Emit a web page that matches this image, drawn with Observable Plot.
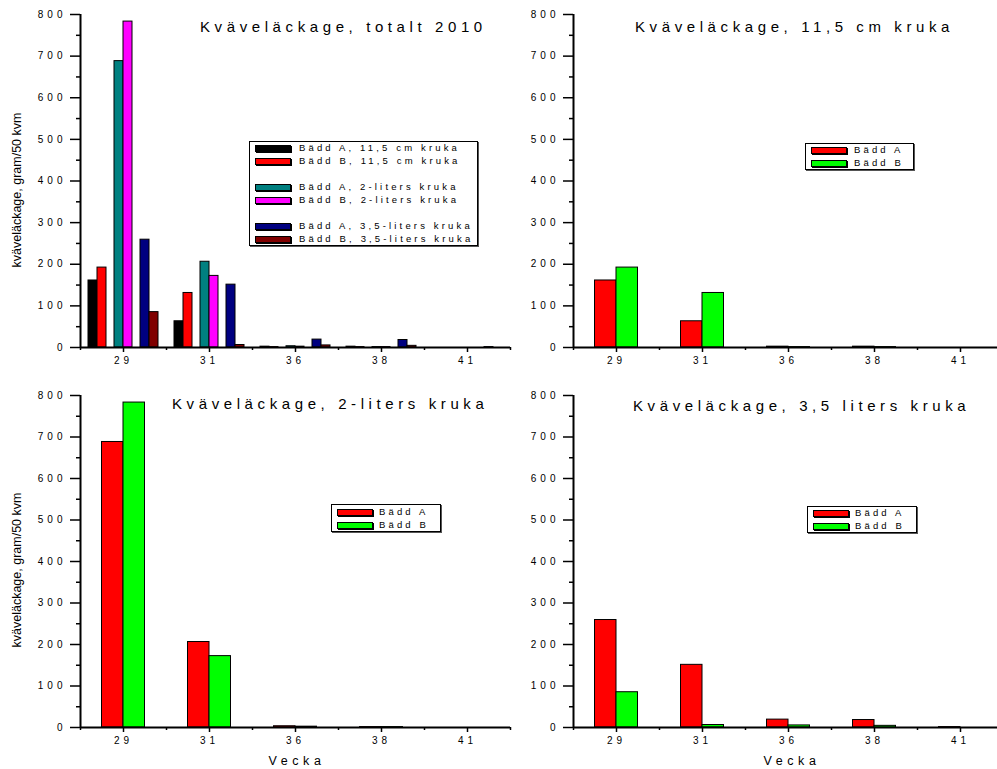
<!DOCTYPE html>
<html><head><meta charset="utf-8">
<script src="https://cdn.jsdelivr.net/npm/d3@7"></script>
<script src="https://cdn.jsdelivr.net/npm/@observablehq/plot@0.6"></script>
<style>
html,body{margin:0;padding:0;background:#fff;overflow:hidden}
#root{position:relative;width:997px;height:769px;overflow:hidden;font-family:"Liberation Sans",Arial,sans-serif;color:#000;background:#fff}
.abs{position:absolute}
.title{position:absolute;font-size:15px;line-height:15px;letter-spacing:4.6px;white-space:pre}
.legend{position:absolute;border:1px solid #000;box-shadow:1px 1px 0 #555;background:#fff;box-sizing:border-box}
.sw{position:absolute;height:5px;border:1px solid #000;box-shadow:1px 1px 0 #000}
.lt{position:absolute;font-size:9.5px;line-height:10px;letter-spacing:3.15px;white-space:pre}
.ylab{position:absolute;font-size:12.5px;line-height:13px;white-space:nowrap;transform:translate(-50%,-50%) rotate(-90deg)}
.xlab{position:absolute;font-size:12.5px;line-height:13px;letter-spacing:4.6px;white-space:nowrap;transform:translateX(-50%)}
</style>
</head><body>
<div id="root"></div>
<script>
// ---- data ----
const weeks = ["29", "31", "36", "38", "41"];
const baddA_11_5cm = [161, 63, 2, 2, 0];
const baddB_11_5cm = [192, 131, 1, 1, 0];
const baddA_2liter = [688, 206, 3, 1, 0];
const baddB_2liter = [783, 172, 2, 1, 0];
const baddA_3_5liter = [259, 151, 19, 18, 1];
const baddB_3_5liter = [85, 6, 5, 4, 0];

const yTicks = [0, 100, 200, 300, 400, 500, 600, 700, 800];
const yMinorTicks = [50, 150, 250, 350, 450, 550, 650, 750];

const labelsTotal = [
  "Bädd A, 11,5 cm kruka", "Bädd B, 11,5 cm kruka",
  "Bädd A, 2-liters kruka", "Bädd B, 2-liters kruka",
  "Bädd A, 3,5-liters kruka", "Bädd B, 3,5-liters kruka"
];
const labelsAB = ["Bädd A", "Bädd B"];
const titles = [
  "Kväveläckage, totalt 2010",
  "Kväveläckage, 11,5 cm kruka",
  "Kväveläckage, 2-liters kruka",
  "Kväveläckage, 3,5 liters kruka"
];
const yLabel = "kväveläckage, gram/50 kvm";
const xLabel = "Vecka";

// ---- styles ----
const C = {black:"#000000", red:"#ff0000", teal:"#008080", magenta:"#ff00ff", navy:"#000080", darkred:"#800000", green:"#00ff00"};

const BAND = 86;           // px per week band
const PLOT_W = BAND * weeks.length;
const ML = 80, MR = 10, MT = 14;

const panels = [
  {left:0, top:0, height:381, mb:34,
   series:[
     {label:labelsTotal[0], values:baddA_11_5cm, color:C.black},
     {label:labelsTotal[1], values:baddB_11_5cm, color:C.red},
     {label:labelsTotal[2], values:baddA_2liter, color:C.teal},
     {label:labelsTotal[3], values:baddB_2liter, color:C.magenta},
     {label:labelsTotal[4], values:baddA_3_5liter, color:C.navy},
     {label:labelsTotal[5], values:baddB_3_5liter, color:C.darkred}],
   offsets:[8,17,34,43,60,69], barW:9,
   title:titles[0], tx:200, tbase:32,
   legend:{x:249, y:141, w:229, h:105, rows:[7,20,46,59,85,98], swx:5, swW:36, txx:49},
   ylab:{x:17, y:190}, xlab:null},
  {left:493, top:0, height:381, mb:34,
   series:[
     {label:labelsAB[0], values:baddA_11_5cm, color:C.red},
     {label:labelsAB[1], values:baddB_11_5cm, color:C.green}],
   offsets:[21.5,43], barW:21.5,
   title:titles[1], tx:635, tbase:32,
   legend:{x:805, y:143, w:109, h:27, rows:[7,20], swx:5, swW:36, txx:48},
   ylab:null, xlab:null},
  {left:0, top:381, height:388, mb:42,
   series:[
     {label:labelsAB[0], values:baddA_2liter, color:C.red},
     {label:labelsAB[1], values:baddB_2liter, color:C.green}],
   offsets:[21.5,43], barW:21.5,
   title:titles[2], tx:172, tbase:409,
   legend:{x:331, y:504, w:110, h:28, rows:[8,21], swx:5, swW:36, txx:47},
   ylab:{x:17, y:570}, xlab:{x:295, y:755}},
  {left:493, top:381, height:388, mb:42,
   series:[
     {label:labelsAB[0], values:baddA_3_5liter, color:C.red},
     {label:labelsAB[1], values:baddB_3_5liter, color:C.green}],
   offsets:[21.5,43], barW:21.5,
   title:titles[3], tx:633, tbase:411,
   legend:{x:807, y:506, w:110, h:27, rows:[7,20], swx:5, swW:36, txx:47},
   ylab:null, xlab:{x:790, y:755}}
];

const root = document.getElementById("root");

for (const p of panels) {
  const marks = [];
  p.series.forEach((s, k) => {
    const rows = weeks.map((w, i) => ({week: w, value: s.values[i]}));
    marks.push(Plot.barY(rows, {
      x: "week", y: "value", fill: s.color, stroke: "#000", strokeWidth: 1,
      insetLeft: p.offsets[k], insetRight: BAND - p.offsets[k] - p.barW
    }));
  });
  marks.push(
    Plot.axisY({ticks: yTicks, tickSize: 10, tickPadding: 4, fontSize: 10, strokeWidth: 1.5, label: null}),
    Plot.axisY({ticks: yMinorTicks, tickSize: 4, strokeWidth: 1.5, tickFormat: () => "", label: null}),
    Plot.axisX({tickSize: 5, tickPadding: 4, fontSize: 10, strokeWidth: 1.5, label: null}),
    Plot.ruleX(weeks, {x: d => d, dx: -BAND/2, y1: 0, y2: 0, insetBottom: -3, strokeWidth: 1.5}),
    Plot.ruleX([weeks[weeks.length-1]], {x: d => d, dx: BAND/2, y1: 0, y2: 0, insetBottom: -3, strokeWidth: 1.5}),
    Plot.ruleY([0], {strokeWidth: 2}),
    Plot.ruleX([weeks[0]], {x: d => d, dx: -BAND/2, strokeWidth: 2})
  );
  const W = ML + PLOT_W + MR;
  const svg = Plot.plot({
    width: W, height: p.height,
    marginLeft: ML, marginRight: MR, marginTop: MT, marginBottom: p.mb,
    x: {type: "band", domain: weeks, padding: 0, axis: null},
    y: {domain: [0, 800], axis: null},
    marks
  });
  svg.style.background = "transparent";
  svg.style.fontFamily = '"Liberation Sans", Arial, sans-serif';
  svg.style.letterSpacing = "4px";
  svg.style.overflow = "visible";
  svg.style.maxWidth = "none";
  const wrap = document.createElement("div");
  wrap.className = "abs";
  wrap.style.left = p.left + "px";
  wrap.style.top = p.top + "px";
  wrap.style.width = W + "px";
  wrap.appendChild(svg);
  root.appendChild(wrap);

  // title
  const t = document.createElement("div");
  t.className = "title";
  t.textContent = p.title;
  t.style.left = p.tx + "px";
  t.style.top = (p.tbase - 12.7) + "px";
  root.appendChild(t);

  // legend
  const L = p.legend;
  const lg = document.createElement("div");
  lg.className = "legend";
  lg.style.left = L.x + "px"; lg.style.top = L.y + "px";
  lg.style.width = L.w + "px"; lg.style.height = L.h + "px";
  p.series.forEach((s, k) => {
    const sw = document.createElement("div");
    sw.className = "sw";
    sw.style.left = L.swx + "px";
    sw.style.width = (L.swW - 2) + "px";
    sw.style.top = (L.rows[k] - 4.5) + "px";
    sw.style.background = s.color;
    lg.appendChild(sw);
    const tx = document.createElement("div");
    tx.className = "lt";
    tx.style.left = L.txx + "px";
    tx.style.top = (L.rows[k] - 6) + "px";
    tx.textContent = s.label;
    lg.appendChild(tx);
  });
  root.appendChild(lg);

  if (p.ylab) {
    const yl = document.createElement("div");
    yl.className = "ylab";
    yl.textContent = yLabel;
    yl.style.left = p.ylab.x + "px";
    yl.style.top = p.ylab.y + "px";
    root.appendChild(yl);
  }
  if (p.xlab) {
    const xl = document.createElement("div");
    xl.className = "xlab";
    xl.textContent = xLabel;
    xl.style.left = (p.xlab.x + 2) + "px";
    xl.style.top = p.xlab.y + "px";
    root.appendChild(xl);
  }
}
</script>
</body></html>
